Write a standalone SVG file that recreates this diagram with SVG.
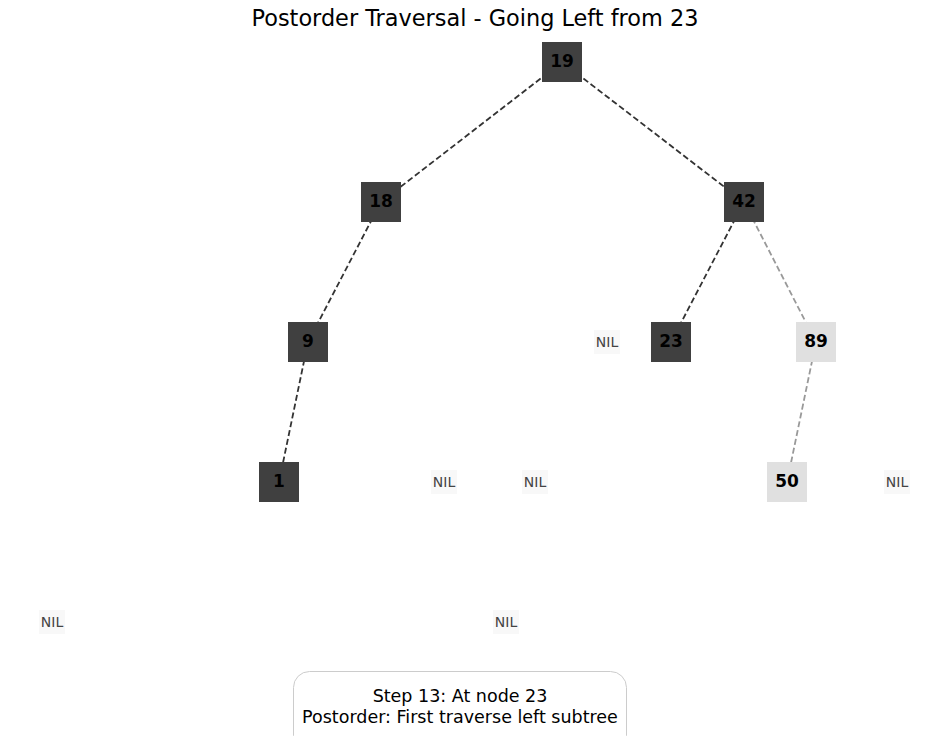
<svg xmlns="http://www.w3.org/2000/svg" width="950" height="736" viewBox="0 0 950 736">
<style>
.e{stroke-width:1.8;stroke-dasharray:6,3;fill:none}
.d{stroke:#333}
.l{stroke:#999}
.n rect{width:40px;height:40px}
.dk{fill:#404040}
.lt{fill:#e0e0e0}
.t{font-family:"DejaVu Sans",sans-serif;font-size:17px;font-weight:bold;fill:#000;text-anchor:middle;dominant-baseline:central}
.nil rect{fill:#f8f8f8}
.nt{font-family:"DejaVu Sans",sans-serif;font-size:14px;fill:#444;text-anchor:middle;dominant-baseline:central}
.cap{font-family:"DejaVu Sans",sans-serif;font-size:17.5px;fill:#000;text-anchor:middle}
</style>
<rect width="950" height="736" fill="#fff"/>
<text x="475" y="26" font-family="DejaVu Sans,sans-serif" font-size="22.4" text-anchor="middle" fill="#000">Postorder Traversal - Going Left from 23</text>
<g id="connectors">
<line class="e d" x1="562" y1="62" x2="381" y2="202"/>
<line class="e d" x1="562" y1="62" x2="744" y2="202"/>
<line class="e d" x1="381" y1="202" x2="308" y2="342"/>
<line class="e d" x1="308" y1="342" x2="279" y2="482"/>
<line class="e d" x1="744" y1="202" x2="671" y2="342"/>
<line class="e l" x1="744" y1="202" x2="816" y2="342"/>
<line class="e l" x1="816" y1="342" x2="787" y2="482"/>
</g>
<g id="n19" class="n"><rect class="dk" x="542" y="42"/><text class="t" x="562" y="61">19</text></g>
<g id="n18" class="n"><rect class="dk" x="361" y="182"/><text class="t" x="381" y="201">18</text></g>
<g id="n42" class="n"><rect class="dk" x="724" y="182"/><text class="t" x="744" y="201">42</text></g>
<g id="n9" class="n"><rect class="dk" x="288" y="322"/><text class="t" x="308" y="341">9</text></g>
<g id="n23" class="n"><rect class="dk" x="651" y="322"/><text class="t" x="671" y="341">23</text></g>
<g id="n89" class="n"><rect class="lt" x="796" y="322"/><text class="t" x="816" y="341">89</text></g>
<g id="n1" class="n"><rect class="dk" x="259" y="462"/><text class="t" x="279" y="481">1</text></g>
<g id="n50" class="n"><rect class="lt" x="767" y="462"/><text class="t" x="787" y="481">50</text></g>
<g id="nil1" class="nil"><rect x="594" y="330" width="26" height="24"/><text class="nt" x="607" y="342">NIL</text></g>
<g id="nil2" class="nil"><rect x="431" y="470" width="26" height="24"/><text class="nt" x="444" y="482">NIL</text></g>
<g id="nil3" class="nil"><rect x="522" y="470" width="26" height="24"/><text class="nt" x="535" y="482">NIL</text></g>
<g id="nil4" class="nil"><rect x="884" y="470" width="26" height="24"/><text class="nt" x="897" y="482">NIL</text></g>
<g id="nil5" class="nil"><rect x="39" y="610" width="26" height="24"/><text class="nt" x="52" y="622">NIL</text></g>
<g id="nil6" class="nil"><rect x="493" y="610" width="26" height="24"/><text class="nt" x="506" y="622">NIL</text></g>
<g id="caption">
<rect x="293.5" y="671.5" width="333" height="80" rx="16" fill="#fff" stroke="#ccc" stroke-width="1"/>
<text class="cap" x="460" y="702">Step 13: At node 23</text>
<text class="cap" x="460" y="723">Postorder: First traverse left subtree</text>
</g>
</svg>
